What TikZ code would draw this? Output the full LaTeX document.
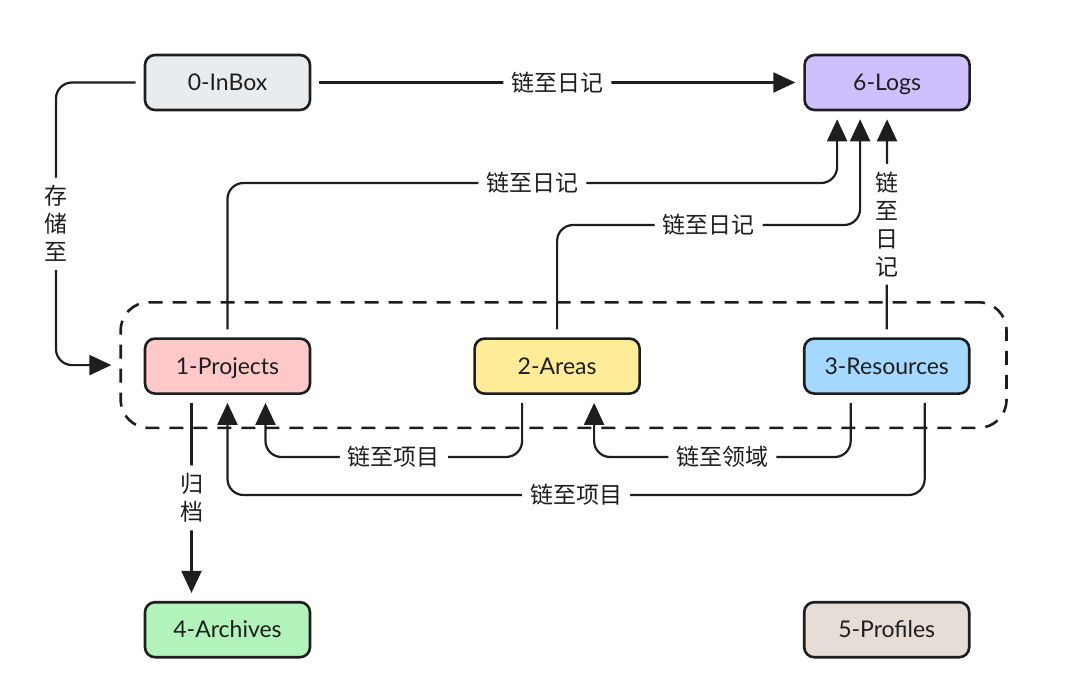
\documentclass[tikz,border=0pt]{standalone}
\usepackage{fontspec}
\setmainfont{Lato}
\newfontfamily\cjk{Noto Sans CJK SC}
\usetikzlibrary{arrows.meta, positioning, fit, backgrounds}
\definecolor{ink}{HTML}{1E1E1E}
\definecolor{inboxc}{HTML}{E9ECEF}
\definecolor{logsc}{HTML}{D0BFFF}
\definecolor{projc}{HTML}{FFC9C9}
\definecolor{areac}{HTML}{FFEC99}
\definecolor{resc}{HTML}{A5D8FF}
\definecolor{archc}{HTML}{B2F2BB}
\definecolor{profc}{HTML}{E6DDD6}
\tikzset{
  box/.style={draw=ink, line width=1.3pt, rounded corners=5pt, fill=#1, text=ink,
    minimum width=82.5pt, minimum height=27.5pt, text height=8.5pt, text depth=0.5pt,
    font=\fontsize{11.5}{13}\selectfont},
  conn/.style={draw=ink, line width=1.1pt, rounded corners=8pt, shorten <=4pt, shorten >=4pt},
  arr/.style={conn, -{Triangle[length=11pt, width=10pt]}},
  lbl/.style={fill=white, text=ink, inner xsep=4pt, inner ysep=2pt, font=\cjk\fontsize{11.5}{13}\selectfont},
  vlbl/.style={lbl, align=center, inner xsep=2pt, inner ysep=4pt, font=\cjk\fontsize{11.5}{14}\selectfont},
  group/.style={draw=ink, line width=1.3pt, dash pattern=on 7pt off 5pt, rounded corners=14pt, inner sep=0pt},
}

\begin{document}
\begin{tikzpicture}[x=0.5pt, y=-0.5pt]
    \useasboundingbox (0,0) rectangle (1080,695);
    \node[box=inboxc] (inbox) at (227.5,82.5) {0-InBox};
    \node[box=logsc, right=246pt of inbox] (logs) {6-Logs};
    \node[box=projc, below=113pt of inbox] (projects) {1-Projects};
    \node[box=areac, right=81pt of projects] (areas) {2-Areas};
    \node[box=resc, right=81pt of areas] (resources) {3-Resources};
    \node[box=archc, below=103pt of projects] (archives) {4-Archives};
    \node[box=profc, below=103pt of resources] (profiles) {5-Profiles};
    \coordinate (grpNW) at ([shift={(-11.5pt,17.5pt)}]projects.north west);
    \coordinate (grpSE) at ([shift={(18pt,-16.5pt)}]resources.south east);
    \begin{scope}[on background layer]
      \node[group, fit=(grpNW)(grpSE)] (grp) {};
    \end{scope}
    % levels of the bends
    \coordinate (jX) at (56,0);
    \coordinate (jA) at (0,183);
    \coordinate (jB) at (0,225);
    \coordinate (jC) at (0,457);
    \coordinate (jD) at (0,495);
    % ends on the boxes
    \coordinate (logsP) at ([xshift=-25pt]logs.south);
    \coordinate (logsA) at ([xshift=-13.5pt]logs.south);
    \coordinate (projOut) at ([xshift=-18pt]projects.south);
    \coordinate (projIn) at ([xshift=19pt]projects.south);
    \coordinate (areaOut) at ([xshift=-17.5pt]areas.south);
    \coordinate (areaIn) at ([xshift=18.5pt]areas.south);
    \coordinate (resOutA) at ([xshift=-18pt]resources.south);
    \coordinate (resOutP) at ([xshift=19pt]resources.south);
    \draw[arr] (inbox) -- node[lbl] {链至日记} (logs);
    \draw[arr] (inbox.west) -| node[vlbl, pos=.75] {存\\储\\至} (grp.west -| jX) -- (grp.west);
    \draw[arr] (projects.north) |- node[lbl, pos=.75] {链至日记} (logsP |- jA) -- (logsP);
    \draw[arr] (areas.north) |- node[lbl, pos=.75] {链至日记} (logsA |- jB) -- (logsA);
    \draw[arr] (resources) -- node[vlbl] {链\\至\\日\\记} (logs);
    \draw[arr] (projOut) -- node[vlbl] {归\\档} (projOut |- archives.north);
    \draw[arr] (areaOut) |- node[lbl, pos=.75] {链至项目} (projIn |- jC) -- (projIn);
    \draw[arr] (resOutA) |- node[lbl, pos=.75] {链至领域} (areaIn |- jC) -- (areaIn);
    \draw[arr] (resOutP) |- node[lbl, pos=.75] {链至项目} (projects.south |- jD) -- (projects.south);
\end{tikzpicture}
\end{document}
